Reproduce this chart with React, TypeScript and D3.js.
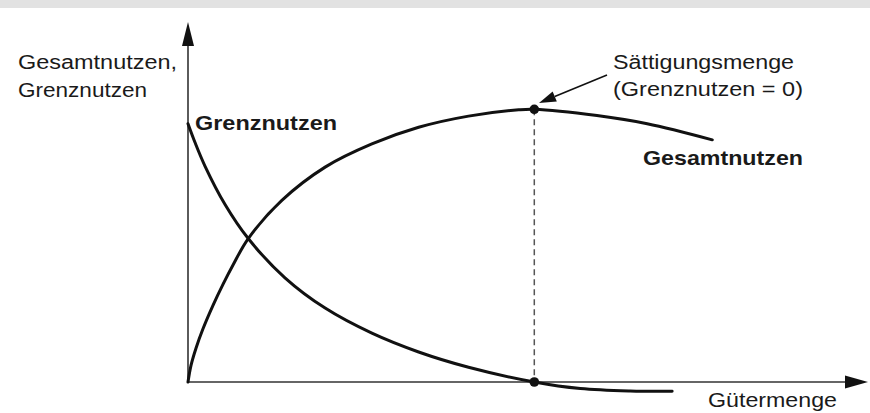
import React from "react";
import * as d3 from "d3";

// Quantity (x) and utility (y) readings, saturation quantity at x = 10
const gesamtX = [0, 0.087, 0.231, 0.433, 0.722, 1.01, 1.3, 1.74, 2.71, 3.96, 5.31, 6.66, 8.1, 9.55, 10, 11.81, 13.26, 15.14];
const gesamtY = [0, 6.1, 12.4, 19.5, 28.1, 35.8, 42.9, 52.6, 66.6, 78.8, 87.3, 93.4, 97.5, 99.8, 100, 97.7, 94.7, 88.8];
const grenzX = [0, 0.2, 0.49, 1.07, 1.74, 2.8, 3.96, 5.31, 6.66, 8.1, 10, 11.33, 12.77, 13.98];
const grenzY = [94.7, 87.9, 79.2, 65.1, 52.6, 38.2, 27.1, 17.9, 11.0, 5.4, 0, -2.4, -3.3, -3.4];
const saturation = { x: 10, total: 100, marginal: 0 };

const labels = {
  yAxis: ["Gesamtnutzen,", "Grenznutzen"],
  xAxis: "Gütermenge",
  grenz: "Grenznutzen",
  gesamt: "Gesamtnutzen",
  note: ["Sättigungsmenge", "(Grenznutzen = 0)"],
};

const W = 870;
const H = 413;

export default function App() {
  const x = d3.scaleLinear().domain([0, 10]).range([188, 534.3]);
  const y = d3.scaleLinear().domain([0, 100]).range([382, 109.3]);

  const line = d3
    .line<[number, number]>()
    .x((d) => x(d[0]))
    .y((d) => y(d[1]))
    .curve(d3.curveCatmullRom.alpha(0.5));

  const gesamt = line(gesamtX.map((v, i) => [v, gesamtY[i]] as [number, number])) || "";
  const grenz = line(grenzX.map((v, i) => [v, grenzY[i]] as [number, number])) || "";

  const ox = x(0);
  const oy = y(0);
  const yTop = 22;
  const xEnd = 868;
  const axisColor = "#333";
  const txt = "#1a1a1a";
  const font = "'Liberation Sans', Arial, Helvetica, sans-serif";

  const sx = x(saturation.x);
  const syTop = y(saturation.total);
  const syBot = y(saturation.marginal);

  // annotation arrow
  const a0 = [607, 75];
  const a1 = [539, 103];
  const ang = Math.atan2(a1[1] - a0[1], a1[0] - a0[0]);
  const hl = 17;
  const hw = 5.5;
  const bx = a1[0] - hl * Math.cos(ang);
  const by = a1[1] - hl * Math.sin(ang);
  const px = -Math.sin(ang) * hw;
  const py = Math.cos(ang) * hw;

  return (
    <svg
      width={W}
      height={H}
      style={{ position: "absolute", left: 0, top: 0, background: "#fff" }}
      fontFamily={font}
    >
      <rect x={0} y={0} width={W} height={8} fill="#e2e2e2" />

      {/* axes */}
      <line x1={ox} y1={oy} x2={ox} y2={46} stroke={axisColor} strokeWidth={1.6} />
      <path d={`M${ox},${yTop} L${ox - 6},46 L${ox + 6},46 Z`} fill="#111" />
      <line x1={ox} y1={oy} x2={845} y2={oy} stroke={axisColor} strokeWidth={1.6} />
      <path d={`M${xEnd},${oy} L845,${oy - 6.5} L845,${oy + 6.5} Z`} fill="#111" />

      {/* dashed saturation line */}
      <line
        x1={sx}
        y1={syTop}
        x2={sx}
        y2={syBot}
        stroke="#555"
        strokeWidth={1.5}
        strokeDasharray="6,4"
      />

      {/* curves */}
      <path d={gesamt} fill="none" stroke="#111" strokeWidth={3} strokeLinecap="round" />
      <path d={grenz} fill="none" stroke="#111" strokeWidth={3} strokeLinecap="round" />

      <circle cx={sx} cy={syTop} r={4.8} fill="#111" />
      <circle cx={sx} cy={syBot} r={4.8} fill="#111" />

      {/* annotation arrow */}
      <line x1={a0[0]} y1={a0[1]} x2={bx} y2={by} stroke="#111" strokeWidth={1.6} />
      <path
        d={`M${a1[0]},${a1[1]} L${bx + px},${by + py} L${bx - px},${by - py} Z`}
        fill="#111"
      />

      {/* texts */}
      <text x={18} y={69} fontSize={20} fill={txt} textLength={159} lengthAdjust="spacingAndGlyphs">
        {labels.yAxis[0]}
      </text>
      <text x={18} y={97} fontSize={20} fill={txt} textLength={129} lengthAdjust="spacingAndGlyphs">
        {labels.yAxis[1]}
      </text>
      <text x={195} y={130} fontSize={21} fontWeight="bold" fill={txt} textLength={142} lengthAdjust="spacingAndGlyphs">
        {labels.grenz}
      </text>
      <text x={613} y={69} fontSize={20} fill={txt} textLength={181} lengthAdjust="spacingAndGlyphs">
        {labels.note[0]}
      </text>
      <text x={613} y={96} fontSize={20} fill={txt} textLength={190} lengthAdjust="spacingAndGlyphs">
        {labels.note[1]}
      </text>
      <text x={643} y={165} fontSize={21} fontWeight="bold" fill={txt} textLength={160} lengthAdjust="spacingAndGlyphs">
        {labels.gesamt}
      </text>
      <text x={708} y={407} fontSize={20} fill={txt} textLength={129} lengthAdjust="spacingAndGlyphs">
        {labels.xAxis}
      </text>
    </svg>
  );
}
